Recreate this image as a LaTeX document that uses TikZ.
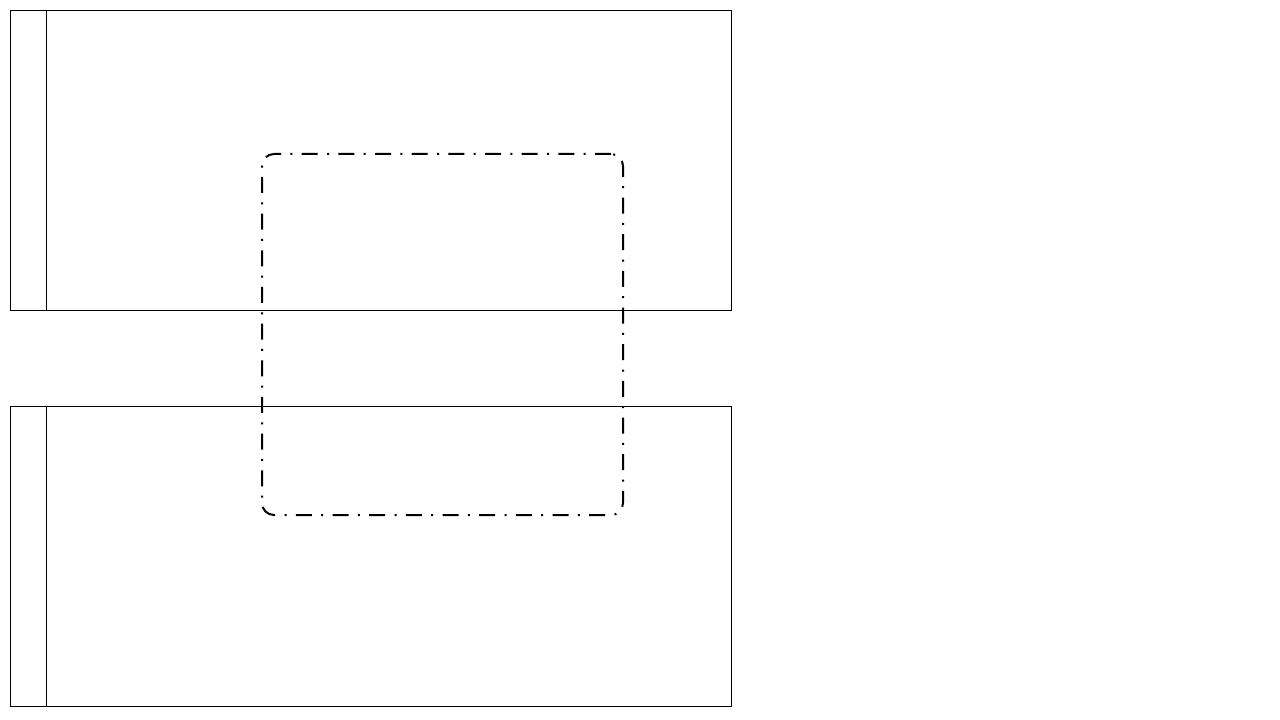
\documentclass[tikz,border=0pt]{standalone}
\usepackage{tikz}

\tikzset{
  pool/.style={draw, line width=0.75pt, inner sep=0pt, outer sep=0pt,
    minimum width=540.75pt, minimum height=225pt},
  lanehead/.style={draw, line width=0.75pt, inner sep=0pt, outer sep=0pt,
    minimum width=27pt, minimum height=225pt},
  groupbox/.style={draw, line width=1.5pt, rounded corners=9pt, inner sep=0pt,
    minimum width=270.75pt, minimum height=270.75pt,
    dash pattern=on 12pt off 7pt on 1.5pt off 7pt}
}

\begin{document}
\begin{tikzpicture}[x=0.75pt,y=-0.75pt]
    \useasboundingbox (0,0) rectangle (1280,720);
    \node[pool] (poolA) at (370.5,160.5) {};
    \node[lanehead] (headA) at (28,160.5) {};
    \node[pool] (poolB) at (370.5,556.5) {};
    \node[lanehead] (headB) at (28,556.5) {};
    \node[groupbox] (group) at (442.5,334.5) {};
  \end{tikzpicture}
\end{document}
